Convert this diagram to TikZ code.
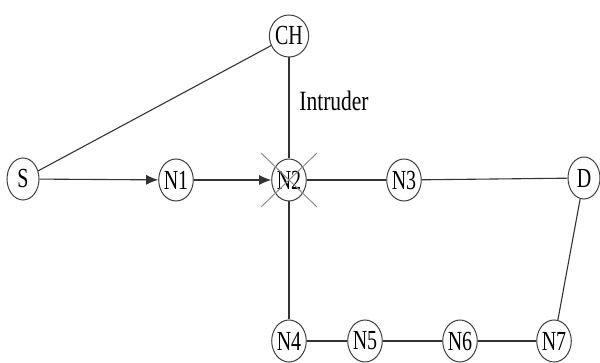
\documentclass[tikz,border=0pt]{standalone}
\usepackage{fontspec}
\setmainfont{Liberation Serif}
\usetikzlibrary{arrows.meta,shapes.geometric}
\tikzset{
  nd/.style={draw=black!75, line width=1pt, ellipse, minimum width=32pt, minimum height=42pt, inner sep=0pt, fill=white},
  edge/.style={draw=black!80, line width=1.1pt},
  arr/.style={edge, -{Latex[length=12pt,width=10pt]}},
  crossln/.style={draw=black!45, line width=1pt}
}
\newcommand{\lbl}[1]{\scalebox{1}[1.38]{\fontsize{20}{20}\selectfont #1}}
\begin{document}
\begin{tikzpicture}[x=1pt,y=-1pt]
\useasboundingbox (0,0) rectangle (600,363);
\node[nd] (S) at (23,179) {\lbl{S}};
\node[nd] (N1) at (176,180) {\lbl{N1}};
\node[nd] (N2) at (289,180) {\lbl{N2}};
\node[nd] (N3) at (404,180) {\lbl{N3}};
\node[nd] (D) at (584,178) {\lbl{D}};
\node[nd] (CH) at (289,36) {\lbl{CH}};
\node[nd] (N4) at (289,341) {\lbl{N4}};
\node[nd] (N5) at (365,341) {\lbl{N5}};
\node[nd] (N6) at (460,341) {\lbl{N6}};
\node[nd] (N7) at (554,341) {\lbl{N7}};
\node (intr) at (334,101) {\scalebox{1}[1.3]{\fontsize{21.5}{21.5}\selectfont Intruder}};
\draw[edge] (S) -- (CH);
\draw[arr] (S) -- (N1);
\draw[arr] (N1) -- (N2);
\draw[edge] (CH) -- (N2);
\draw[edge] (N2) -- (N3);
\draw[edge] (N3) -- (D);
\draw[edge] (N2) -- (N4);
\draw[edge] (N4) -- (N5);
\draw[edge] (N5) -- (N6);
\draw[edge] (N6) -- (N7);
\draw[edge] (N7) -- (D);
\draw[crossln] (N2.center) ++(-28,-27) -- ++(56,54);
\draw[crossln] (N2.center) ++(28,-27) -- ++(-56,54);
\end{tikzpicture}
\end{document}
